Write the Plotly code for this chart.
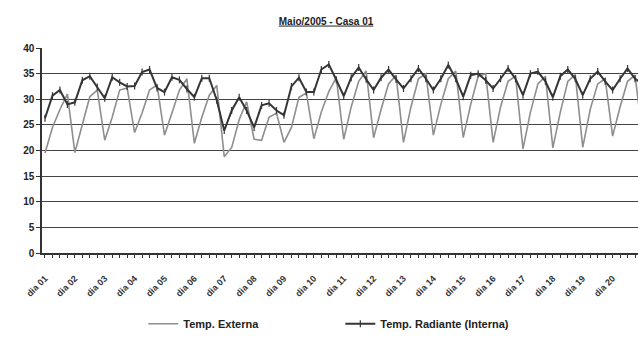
import plotly.graph_objects as go

# Four readings per day, 20 days of May 2005 (plus the first reading of day 21)
day_labels = [f"dia {d:02d}" for d in range(1, 21)]
readings_per_day = 4

temp_externa = [
    19.5, 24.5, 28.0, 31.0,
    19.6, 25.3, 30.5, 31.8,
    22.0, 26.5, 31.8, 32.2,
    23.5, 27.3, 31.8, 32.8,
    23.0, 27.3, 31.8, 34.0,
    21.4, 26.5, 30.8, 32.7,
    18.8, 20.6, 26.0, 29.5,
    22.2, 22.0, 26.5, 27.3,
    21.6, 24.5, 30.4, 31.2,
    22.3, 27.5, 31.5, 34.2,
    22.2, 28.5, 33.5, 35.5,
    22.5, 28.0, 33.0, 34.7,
    21.6, 28.5, 34.0, 35.0,
    23.0, 29.0, 34.0, 35.5,
    22.5, 29.0, 34.5, 35.0,
    21.6, 28.5, 33.5, 34.5,
    20.3, 27.5, 33.0, 34.5,
    20.5, 27.5, 33.5, 34.8,
    20.6, 28.0, 33.0, 34.0,
    22.8, 28.5, 33.5, 34.7,
    23.0,
]

temp_radiante = [
    26.3, 30.7, 31.8, 29.0,
    29.4, 33.7, 34.5, 32.4,
    30.2, 34.3, 33.3, 32.5,
    32.6, 35.3, 35.8, 32.2,
    31.4, 34.3, 33.8, 32.0,
    30.4, 34.1, 34.1, 29.8,
    23.9, 27.8, 30.4, 27.8,
    24.5, 28.8, 29.2, 27.8,
    26.9, 32.5, 34.2, 31.4,
    31.4, 35.8, 36.8, 33.8,
    30.6, 34.2, 36.2, 33.9,
    31.8, 34.2, 35.8, 33.9,
    32.1, 34.0, 36.0, 34.0,
    31.8, 34.0, 36.7, 34.0,
    30.5, 34.7, 35.0, 33.7,
    32.1, 34.0, 36.0, 34.0,
    30.8, 35.0, 35.4, 33.5,
    30.4, 34.5, 35.8, 34.0,
    30.8, 34.0, 35.4, 33.5,
    31.8, 34.0, 36.0, 34.0,
    33.0,
]

y_ticks = [0, 5, 10, 15, 20, 25, 30, 35, 40]

x = list(range(len(temp_externa)))
tick_text = [
    day_labels[i // readings_per_day] if i % readings_per_day == 0 and i // readings_per_day < len(day_labels) else ""
    for i in x
]

FONT = "Liberation Sans, Arial, sans-serif"

fig = go.Figure()
fig.add_trace(go.Scatter(
    x=x, y=temp_externa, mode="lines", name="Temp. Externa",
    line=dict(color="#8e8e8e", width=1.6),
))
fig.add_trace(go.Scatter(
    x=x, y=temp_radiante, mode="lines+markers", name="Temp. Radiante (Interna)",
    line=dict(color="#353535", width=2),
    marker=dict(symbol="line-ns-open", size=5, color="#353535", line=dict(width=1.2, color="#353535")),
))

fig.update_layout(
    width=638, height=351,
    margin=dict(l=42, r=0, t=48, b=98),
    paper_bgcolor="white", plot_bgcolor="white",
    font=dict(family=FONT, color="#222"),
    title=dict(
        text="<u>Maio/2005 - Casa 01</u>",
        x=0.511, xanchor="center", y=0.94, yanchor="middle",
        font=dict(size=10, family=FONT, weight="bold", color="#222"),
    ),
    showlegend=True,
    legend=dict(
        orientation="h", x=0.17, xanchor="left", y=-0.345, yanchor="middle",
        font=dict(size=11, family=FONT, weight="bold", color="#222"),
        entrywidth=152, entrywidthmode="pixels",
        itemwidth=30, bgcolor="rgba(0,0,0,0)",
    ),
)

fig.update_xaxes(
    range=[-0.4, 79.4],
    tickmode="array", tickvals=x, ticktext=tick_text,
    tickangle=-45,
    ticks="outside", ticklen=3, tickcolor="#333", tickwidth=1,
    tickfont=dict(size=9, family=FONT, weight="bold", color="#333"),
    ticklabelstandoff=12,
    showline=True, linecolor="#333", linewidth=1.5,
    showgrid=False, zeroline=False,
)
fig.update_yaxes(
    range=[0, 40],
    tickmode="array", tickvals=y_ticks,
    ticks="outside", ticklen=4, tickcolor="#333",
    tickfont=dict(size=10, family=FONT, weight="bold", color="#222"),
    showline=True, linecolor="#333", linewidth=1.5,
    showgrid=True, gridcolor="#444", gridwidth=1.4,
    zeroline=False,
)

fig.write_html("out.html")
